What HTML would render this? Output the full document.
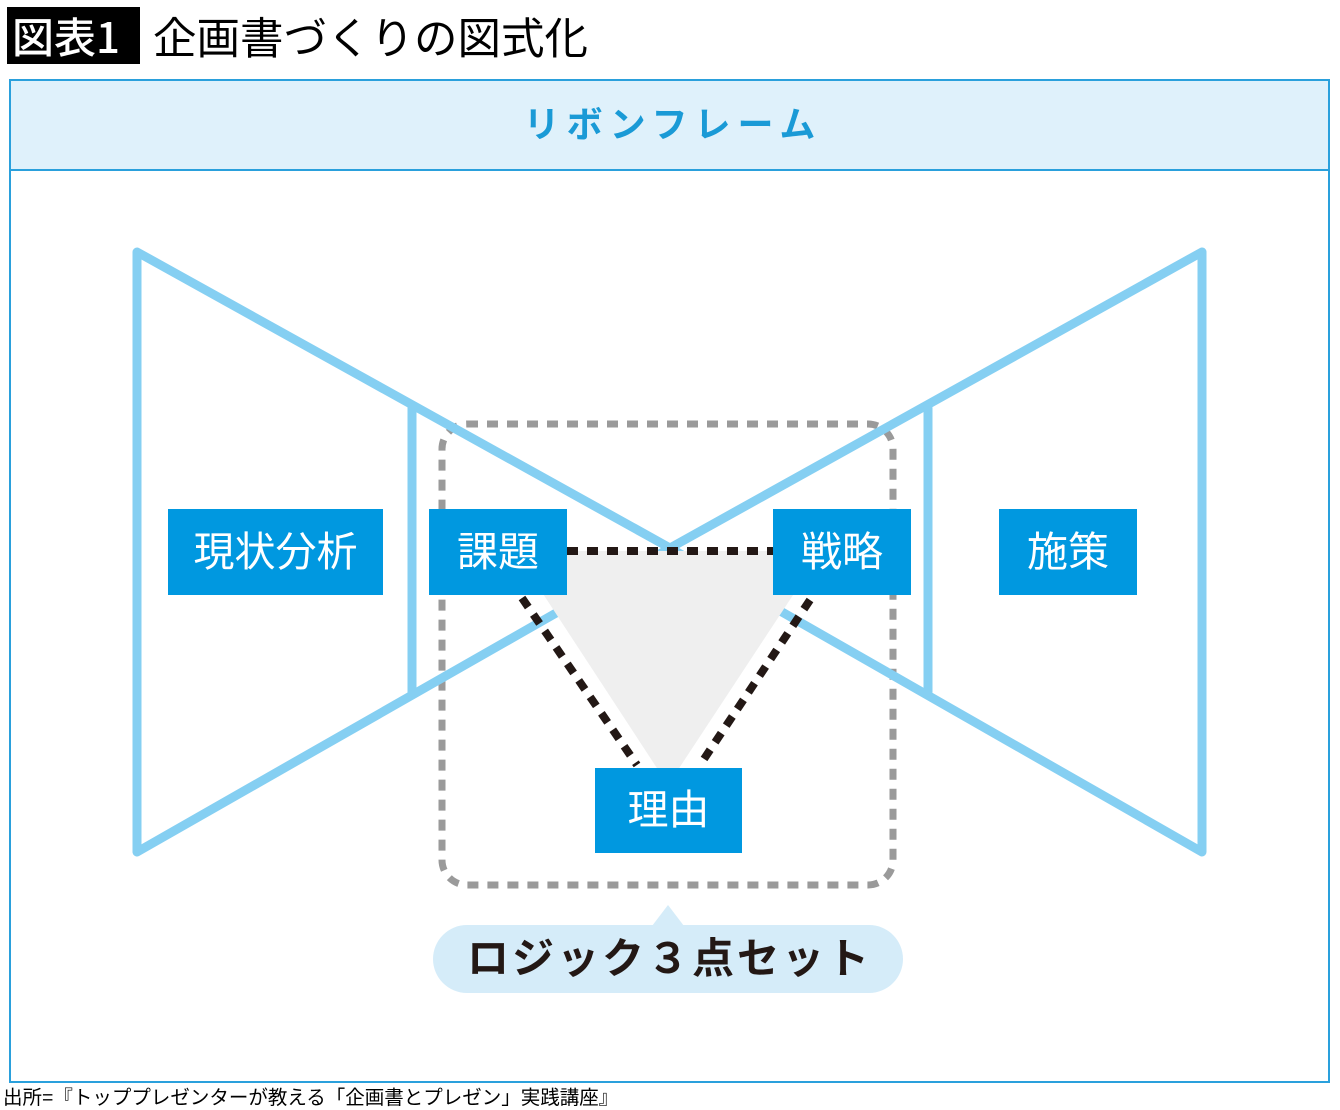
<!DOCTYPE html>
<html><head><meta charset="utf-8"><style>
body{margin:0;width:1340px;height:1110px;background:#fff;position:relative;overflow:hidden;font-family:"Liberation Sans","Noto Sans CJK JP",sans-serif}
.a{position:absolute}
</style></head><body>
<div class="a" style="left:7px;top:7px;width:133px;height:57px;background:#000"></div>
<div class="a" style="left:12px;top:7px;height:57px;line-height:57px;color:#fff;font-size:42px;font-weight:500;font-family:'Noto Sans CJK JP',sans-serif">図表1</div>
<div class="a" style="left:153px;top:7px;height:57px;line-height:57px;color:#000;font-size:43.5px;font-family:'Noto Sans CJK JP',sans-serif">企画書づくりの図式化</div>
<div class="a" style="left:9px;top:79px;width:1317px;height:1000px;border:2px solid #2aa0dc"></div>
<div class="a" style="left:11px;top:81px;width:1317px;height:88px;background:#dff1fb;border-bottom:2px solid #2aa0dc"></div>
<div class="a" style="left:11px;top:81px;width:1317px;height:88px;line-height:88px;text-align:center;color:#1a9ad6;font-size:36px;font-weight:bold;letter-spacing:7px;text-indent:7px">リボンフレーム</div>
<svg class="a" style="left:0;top:0" width="1340" height="1110">
<rect x="442" y="424" width="451" height="461" rx="25" fill="none" stroke="#9a9a9a" stroke-width="7" stroke-dasharray="11 9"/>
<g fill="none" stroke="#85cff2" stroke-width="9" stroke-linejoin="round" stroke-linecap="round">
<polyline points="137,852 137,252 670,548 1202,252 1202,852 670,548 137,852"/>
<line x1="412" y1="408" x2="412" y2="692"/>
<line x1="928" y1="408" x2="928" y2="692"/>
</g>
<polygon points="515,551 822,551 668,785" fill="#efefef"/>
<g stroke="#231815" stroke-width="8" stroke-dasharray="11 9" fill="none">
<line x1="567" y1="551" x2="773" y2="551"/>
<line x1="522" y1="598" x2="637" y2="765"/>
<line x1="810" y1="600" x2="700" y2="765"/>
</g>
<path d="M652,926 L668,905 L684,926 Z" fill="#d5ecf9"/>
<rect x="433" y="925" width="470" height="68" rx="34" fill="#d5ecf9"/>
</svg>
<div class="a" style="left:168px;top:509px;width:215px;height:86px;background:#0098e0;color:#fff;font-size:41px;line-height:86px;text-align:center">現状分析</div>
<div class="a" style="left:429px;top:509px;width:138px;height:86px;background:#0098e0;color:#fff;font-size:41px;line-height:86px;text-align:center">課題</div>
<div class="a" style="left:773px;top:509px;width:138px;height:86px;background:#0098e0;color:#fff;font-size:41px;line-height:86px;text-align:center">戦略</div>
<div class="a" style="left:999px;top:509px;width:138px;height:86px;background:#0098e0;color:#fff;font-size:41px;line-height:86px;text-align:center">施策</div>
<div class="a" style="left:595px;top:768px;width:147px;height:85px;background:#0098e0;color:#fff;font-size:41px;line-height:85px;text-align:center">理由</div>
<div class="a" style="left:433px;top:925px;width:470px;height:68px;line-height:68px;text-align:center;font-size:42px;font-weight:bold;color:#231815;letter-spacing:3px;text-indent:3px">ロジック３点セット</div>
<div class="a" style="left:3px;top:1087px;font-size:19.5px;line-height:22px;color:#000">出所=『トッププレゼンターが教える「企画書とプレゼン」実践講座』</div>
</body></html>
